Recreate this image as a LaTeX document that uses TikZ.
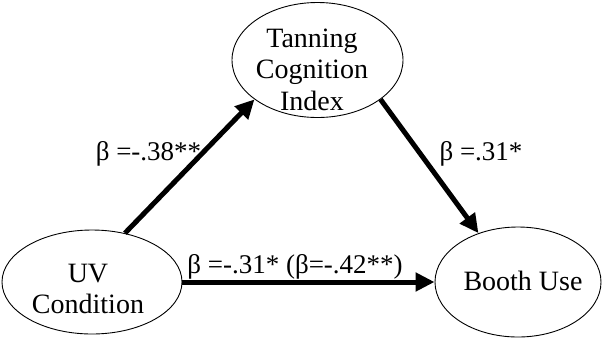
\documentclass[tikz,border=0pt]{standalone}
\usepackage{fontspec}
\setmainfont{Liberation Serif}
\usetikzlibrary{shapes.geometric,arrows.meta}
\begin{document}
\begin{tikzpicture}[x=1pt,y=-1pt,
  oval/.style={ellipse,draw,line width=0.9pt,inner sep=0pt},
  txt/.style={anchor=base,inner sep=0pt,font=\fontsize{28}{32}\selectfont},
  path/.style={line width=5pt,-{Triangle[length=19pt,width=18pt]}},
  lab/.style={anchor=base,inner sep=0pt,font=\fontsize{27}{32}\selectfont}]
\useasboundingbox (0,0) rectangle (602,341);
\node[oval,minimum width=171pt,minimum height=115pt] (tci) at (317.5,60) {};
\node[oval,minimum width=180pt,minimum height=104pt] (uv) at (92,282) {};
\node[oval,minimum width=166pt,minimum height=110pt] (booth) at (518,282) {};
\node[txt] (t1) at (312,47) {Tanning};
\node[txt] (t2) at (312,78) {Cognition};
\node[txt] (t3) at (312,110) {Index};
\node[txt] (u1) at (88,282) {UV};
\node[txt] (u2) at (88,313) {Condition};
\node[txt] (b1) at (523,290) {Booth Use};
\draw[path] (uv.56) -- (tci.212);
\draw[path] (tci.328) -- (booth.129);
\draw[path] (uv.east) -- (booth.west);
\node[lab] (l1) at (148.5,160) {β =-.38**};
\node[lab] (l2) at (481,160) {β =.31*};
\node[lab] (l3) at (295,273) {β =-.31* (β=-.42**)};
\end{tikzpicture}
\end{document}
